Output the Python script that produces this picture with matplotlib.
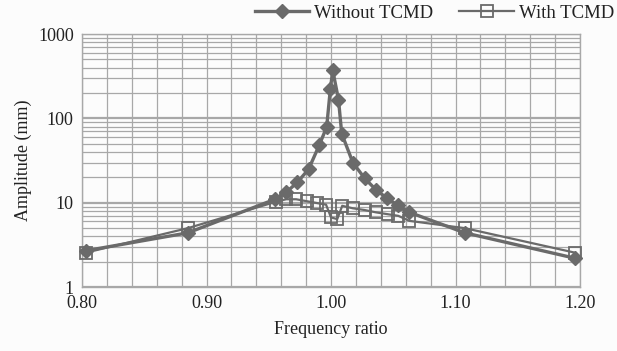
import matplotlib
matplotlib.use("Agg")
import matplotlib.pyplot as plt
import numpy as np
from matplotlib.ticker import FixedLocator, LogLocator, NullFormatter, FixedFormatter

# Data
ratio_without = [0.803, 0.885, 0.955, 0.964, 0.973, 0.982, 0.9905, 0.9965, 0.9995,
                 1.0014, 1.006, 1.0086, 1.0175, 1.027, 1.036, 1.045, 1.054, 1.063,
                 1.1075, 1.196]
amp_without = [2.7, 4.4, 11.0, 13.3, 17.5, 25, 48, 79, 226,
               370, 167, 66, 30, 19.5, 14.3, 11.3, 9.3, 7.7,
               4.4, 2.2]

ratio_with = [0.803, 0.885, 0.956, 0.964, 0.972, 0.981, 0.989, 0.996, 1.000,
              1.005, 1.009, 1.0175, 1.027, 1.036, 1.046, 1.054, 1.063,
              1.1075, 1.196]
amp_with = [2.56, 5.0, 10.3, 11.0, 11.0, 10.4, 9.9, 9.5, 6.7,
            6.4, 9.2, 8.6, 8.2, 7.7, 7.3, 7.0, 6.1,
            5.0, 2.56]

x_ticks = [0.80, 0.90, 1.00, 1.10, 1.20]
x_tick_labels = ["0.80", "0.90", "1.00", "1.10", "1.20"]
y_ticks = [1, 10, 100, 1000]
y_tick_labels = ["1", "10", "100", "1000"]

plt.rcParams['font.family'] = ['Liberation Serif', 'DejaVu Serif']

fig = plt.figure(figsize=(6.17, 3.51), dpi=100)
fig.patch.set_facecolor('#fcfcfc')
ax = fig.add_axes([0.133, 0.182, 0.807, 0.721])
ax.set_facecolor('#fcfcfc')

line_col = '#6a6a6a'
grid_col = '#a8a8a8'

ax.set_yscale('log')
ax.set_xlim(0.80, 1.20)
ax.set_ylim(1, 1000)

ax.xaxis.set_major_locator(FixedLocator(x_ticks))
ax.xaxis.set_major_formatter(FixedFormatter(x_tick_labels))
ax.xaxis.set_minor_locator(FixedLocator(np.arange(0.80, 1.2001, 0.02)))
ax.yaxis.set_major_locator(FixedLocator(y_ticks))
ax.yaxis.set_major_formatter(FixedFormatter(y_tick_labels))
ax.yaxis.set_minor_locator(LogLocator(base=10, subs=np.arange(2, 10)))
ax.yaxis.set_minor_formatter(NullFormatter())

ax.grid(True, which='major', axis='y', color=grid_col, linewidth=1.6)
ax.grid(True, which='minor', axis='y', color=grid_col, linewidth=0.9)
ax.grid(True, which='both', axis='x', color=grid_col, linewidth=0.9)
ax.set_axisbelow(True)

for s in ax.spines.values():
    s.set_color(grid_col)
    s.set_linewidth(1.0)

ax.tick_params(which='both', length=0, labelsize=13, colors='#222222', pad=6)

ax.plot(ratio_without, amp_without, color=line_col, linewidth=2.4, marker='D',
        markersize=7, markerfacecolor=line_col, markeredgecolor=line_col,
        label='Without TCMD', zorder=3, clip_on=False)
ax.plot(ratio_with, amp_with, color=line_col, linewidth=1.6, marker='s',
        markersize=9, markerfacecolor='none', markeredgecolor=line_col,
        markeredgewidth=1.3, label='With TCMD', zorder=3, clip_on=False)

ax.set_xlabel('Frequency ratio', fontsize=13, color='#222222', labelpad=6)
ax.set_ylabel('Amplitude (mm)', fontsize=13, color='#222222', labelpad=4)

leg = fig.legend(loc='upper right', bbox_to_anchor=(1.013, 1.018), ncol=2,
                 frameon=False, fontsize=13.5, handlelength=2.9, columnspacing=1.4,
                 handletextpad=0.25, borderaxespad=0.2)
for t in leg.get_texts():
    t.set_color('#222222')

fig.savefig('out.png', dpi=100, facecolor=fig.get_facecolor())
